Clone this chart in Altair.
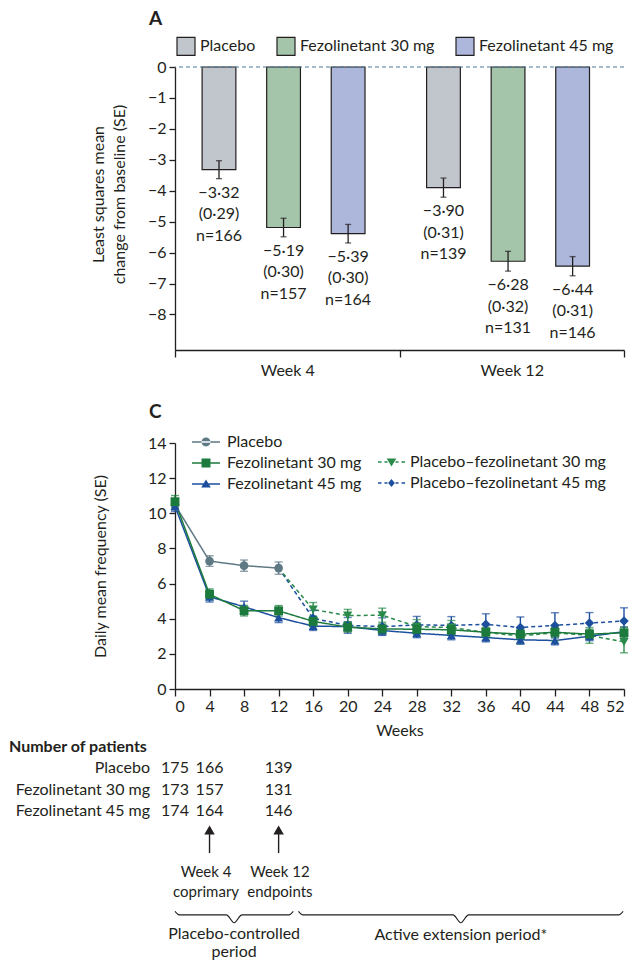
import altair as alt
import pandas as pd

FONT = "Lato"
INK = "#231f20"
FS = 16
W = 449          # plot width of both panels
PXW = W / 52.0   # pixels per week in panel C

# ---------------- Panel A data ----------------
treatments = ["Placebo", "Fezolinetant 30 mg", "Fezolinetant 45 mg"]
bar_colors = ["#c1c5cc", "#a4c5aa", "#adb6db"]
timepoints = ["Week 4", "Week 12"]
lsm_week4 = [-3.32, -5.19, -5.39]
se_week4 = [0.29, 0.30, 0.30]
n_week4 = [166, 157, 164]
lsm_week12 = [-3.90, -6.28, -6.44]
se_week12 = [0.31, 0.32, 0.31]
n_week12 = [139, 131, 146]
yA_ticks = [0, -1, -2, -3, -4, -5, -6, -7, -8]

# ---------------- Panel C data ----------------
series = ["Placebo", "Fezolinetant 30 mg", "Fezolinetant 45 mg",
          "Placebo–fezolinetant 30 mg", "Placebo–fezolinetant 45 mg"]
series_colors = ["#5e7884", "#1d7a3d", "#1c4f9e", "#2a8a4a", "#1c4f9e"]
weeks = [0, 4, 8, 12, 16, 20, 24, 28, 32, 36, 40, 44, 48, 52]
placebo_weeks = [0, 4, 8, 12]
placebo_mean = [10.48, 7.28, 7.02, 6.88]
placebo_se = [0.30, 0.30, 0.32, 0.35]
fez30_mean = [10.66, 5.39, 4.46, 4.45, 3.85, 3.52, 3.42, 3.40, 3.37, 3.23, 3.12, 3.23, 3.12, 3.20]
fez30_se = [0.35, 0.30, 0.30, 0.30, 0.30, 0.28, 0.28, 0.28, 0.28, 0.28, 0.28, 0.28, 0.28, 0.30]
fez45_mean = [10.40, 5.25, 4.68, 4.06, 3.58, 3.55, 3.33, 3.17, 3.05, 2.93, 2.80, 2.76, 3.00, 3.26]
fez45_se = [0.30, 0.30, 0.32, 0.28, 0.25, 0.25, 0.25, 0.25, 0.25, 0.25, 0.25, 0.25, 0.25, 0.28]
switch_weeks = [12, 16, 20, 24, 28, 32, 36, 40, 44, 48, 52]
pf30_mean = [6.88, 4.52, 4.18, 4.20, 3.55, 3.50, 3.22, 3.02, 3.20, 3.05, 2.68]
pf30_se = [0, 0.40, 0.35, 0.40, 0.40, 0.40, 0.45, 0.45, 0.45, 0.45, 0.62]
pf45_mean = [6.88, 4.02, 3.62, 3.55, 3.65, 3.62, 3.68, 3.50, 3.62, 3.75, 3.87]
pf45_se = [0, 0.45, 0.45, 0.50, 0.48, 0.50, 0.60, 0.60, 0.72, 0.60, 0.75]

# patient numbers table
table_groups = ["Placebo", "Fezolinetant 30 mg", "Fezolinetant 45 mg"]
table_weeks = [0, 4, 12]
table_counts = [[175, 166, 139], [173, 157, 131], [174, 164, 146]]


def fmt(v):
    s = f"{abs(v):.2f}".replace(".", "·")
    return ("−" if v < 0 else "") + s


# ================= Panel A =================
rowsA = []
for tp, lsm, se, n in [("Week 4", lsm_week4, se_week4, n_week4),
                       ("Week 12", lsm_week12, se_week12, n_week12)]:
    for t, v, e, k in zip(treatments, lsm, se, n):
        rowsA.append(dict(tp=tp, trt=t, lsm=v, lo=v - e, hi=v + e,
                          label=f"{fmt(v)}\n({fmt(e)})\nn={k}"))
dfA = pd.DataFrame(rowsA)

xA = alt.X("tp:N", sort=timepoints, title=None,
           scale=alt.Scale(paddingInner=0, paddingOuter=0),
           axis=alt.Axis(tickBand="extent", labelAngle=0, tickSize=7, labelPadding=5,
                         domainColor=INK, tickColor=INK, domainWidth=1.3, tickWidth=1.3))
xoA = alt.XOffset("trt:N", sort=treatments,
                  scale=alt.Scale(paddingInner=0.477, paddingOuter=0.477, align=0.44))
axisA = alt.Axis(values=yA_ticks, title=["Least squares mean", "change from baseline (SE)"],
                 tickSize=6, labelPadding=3, domainColor=INK, tickColor=INK,
                 domainWidth=1.3, tickWidth=1.3, titlePadding=20, titleLineHeight=21,
                 titleY=127)
scaleA = alt.Scale(domain=[-9.15, 0], nice=False, zero=False)


def yA(field):
    return alt.Y(field, scale=scaleA, axis=axisA)


baseA = alt.Chart(dfA)
bars = baseA.mark_bar(stroke=INK, strokeWidth=1.2).encode(
    x=xA, xOffset=xoA, y=yA("lsm:Q"),
    color=alt.Color("trt:N", sort=treatments,
                    scale=alt.Scale(domain=treatments, range=bar_colors),
                    legend=alt.Legend(orient="none", legendX=1, legendY=-31, direction="horizontal",
                                      title=None, symbolType="square", symbolSize=324,
                                      symbolStrokeColor=INK, symbolStrokeWidth=1.2,
                                      columnPadding=18, labelOffset=4, labelFontSize=FS,
                                      labelLimit=400)),
)
err_rule = baseA.mark_rule(color=INK, strokeWidth=1.3).encode(
    x=xA, xOffset=xoA, y=yA("lo:Q"), y2="hi:Q")
err_lo = baseA.mark_tick(color=INK, orient="horizontal", size=6, thickness=1.3).encode(
    x=xA, xOffset=xoA, y=yA("lo:Q"))
err_hi = baseA.mark_tick(color=INK, orient="horizontal", size=6, thickness=1.3).encode(
    x=xA, xOffset=xoA, y=yA("hi:Q"))
labelsA = baseA.mark_text(baseline="top", dy=6, lineBreak="\n", lineHeight=21.5,
                          fontSize=FS, color=INK).encode(
    x=xA, xOffset=xoA, y=yA("lo:Q"), text="label:N")
zero_line = alt.Chart(pd.DataFrame({"z": [0.0]})).mark_rule(
    color="#4a7d9b", strokeDash=[4, 3], strokeWidth=1.2).encode(y=yA("z:Q"))

panelA = alt.layer(bars, zero_line, err_rule, err_lo, err_hi, labelsA).properties(
    width=W, height=283,
    title=alt.TitleParams("A", anchor="start", frame="group", dx=-26, fontSize=19,
                          fontWeight="bold", color=INK, offset=30))

# ================= Panel C =================
rowsC = []


def add_series(name, wks, means, ses, markers):
    for w, m, e, mk in zip(wks, means, ses, markers):
        rowsC.append(dict(s=name, week=w, v=m, lo=m - e, hi=m + e, mk=mk))


add_series(series[4], switch_weeks, pf45_mean, pf45_se, [False] + [True] * 10)
add_series(series[3], switch_weeks, pf30_mean, pf30_se, [False] + [True] * 10)
add_series(series[0], placebo_weeks, placebo_mean, placebo_se, [True] * 4)
add_series(series[2], weeks, fez45_mean, fez45_se, [True] * 14)
add_series(series[1], weeks, fez30_mean, fez30_se, [True] * 14)
dfC = pd.DataFrame(rowsC)
dfC["order"] = range(len(dfC))

xC = alt.X("week:Q", scale=alt.Scale(domain=[0, 52], nice=False, zero=False),
           axis=alt.Axis(values=list(range(0, 53, 4)), title="Weeks", tickSize=7, grid=False,
                         labelPadding=2, titlePadding=8, domainColor=INK, tickColor=INK,
                         domainWidth=1.3, tickWidth=1.3))
axisC = alt.Axis(values=list(range(0, 15, 2)), title="Daily mean frequency (SE)", grid=False,
                 tickSize=6, labelPadding=3, domainColor=INK, tickColor=INK,
                 domainWidth=1.3, tickWidth=1.3, titlePadding=39)
scaleC = alt.Scale(domain=[0, 14], nice=False, zero=False)


def yC(field):
    return alt.Y(field, scale=scaleC, axis=axisC)


colC = alt.Color("s:N", scale=alt.Scale(domain=series, range=series_colors), legend=None)
baseC = alt.Chart(dfC)
linesC = baseC.mark_line(strokeWidth=1.5).encode(
    x=xC, y=yC("v:Q"), color=colC, detail="s:N",
    strokeDash=alt.StrokeDash("s:N", scale=alt.Scale(domain=series,
                              range=[[1, 0], [1, 0], [1, 0], [4, 3], [4, 3]]), legend=None),
    order="week:Q")
mk = baseC.transform_filter("datum.mk")
errC = mk.mark_rule(strokeWidth=1.4).encode(x=xC, y=yC("lo:Q"), y2="hi:Q", color=colC)
errC_lo = mk.mark_tick(orient="horizontal", size=8, thickness=1.4).encode(
    x=xC, y=yC("lo:Q"), color=colC)
errC_hi = mk.mark_tick(orient="horizontal", size=8, thickness=1.4).encode(
    x=xC, y=yC("hi:Q"), color=colC)
ptsC = mk.mark_point(filled=True, opacity=1).encode(
    x=xC, y=yC("v:Q"), color=colC,
    shape=alt.Shape("s:N", scale=alt.Scale(domain=series,
                    range=["circle", "square", "triangle-up", "triangle-down", "diamond"]), legend=None),
    size=alt.Size("s:N", scale=alt.Scale(domain=series, range=[75, 90, 60, 55, 45]), legend=None),
    order="order:Q")
dataC = alt.layer(linesC, errC, errC_lo, errC_hi, ptsC)

# legend symbols (line + marker), drawn by the legend itself
solid = "M-1.75,-0.1H1.75V0.1H-1.75Z"
dashed = ("M-1.69,-0.1H-1.25V0.1H-1.69Z M-0.88,-0.1H-0.5V0.1H-0.88Z "
          "M0.5,-0.1H0.88V0.1H0.5Z M1.25,-0.1H1.69V0.1H1.25Z")
circle = "M-0.56,0A0.56,0.56,0,1,0,0.56,0A0.56,0.56,0,1,0,-0.56,0Z"
square = "M-0.56,-0.56H0.56V0.56H-0.56Z"
tri_up = "M0,-0.55L0.6,0.45H-0.6Z"
tri_dn = "M0,0.55L0.6,-0.45H-0.6Z"
diamond = "M0,-0.5L0.42,0L0,0.5L-0.42,0Z"
leg_paths1 = [solid + " " + circle, solid + " " + square, solid + " " + tri_up]
leg_paths2 = [dashed + " " + tri_dn, dashed + " " + diamond]


def legend_layer(names, colors, paths, lx, ly, loff):
    lg = alt.Legend(orient="none", legendX=lx, legendY=ly, direction="vertical", title=None,
                    symbolSize=256, symbolStrokeWidth=0, symbolOpacity=1, rowPadding=5,
                    labelOffset=loff, labelFontSize=FS, labelLimit=400)
    return alt.Chart(pd.DataFrame({"s": names})).mark_point(filled=True, opacity=0).encode(
        x=alt.value(0), y=alt.value(0),
        color=alt.Color("s:N", sort=names, scale=alt.Scale(domain=names, range=colors), legend=lg),
        shape=alt.Shape("s:N", sort=names, scale=alt.Scale(domain=names, range=paths), legend=lg))


leg1 = legend_layer(series[:3], series_colors[:3], leg_paths1, 23, -9, 13)
leg2 = legend_layer(series[3:], series_colors[3:], leg_paths2, 208.5, 11, 10.5)

# annotation layer below the plot (x in weeks, y in text lines)
yN = alt.Y("ln:Q", scale=alt.Scale(domain=[0, 10], range=[304, 517]), axis=None)

hdr = alt.Chart(pd.DataFrame({"week": [-166 / PXW], "ln": [0], "t": ["Number of patients"]})).mark_text(
    align="left", baseline="middle", fontWeight="bold", fontSize=FS, color=INK).encode(
    x=xC, y=yN, text="t:N")
grp = alt.Chart(pd.DataFrame({"week": [-25 / PXW] * 3, "ln": [1, 2, 3], "t": table_groups})).mark_text(
    align="right", baseline="middle", fontSize=FS, color=INK).encode(x=xC, y=yN, text="t:N")
cnt_rows = []
for i, g in enumerate(table_groups):
    for w, c in zip(table_weeks, table_counts[i]):
        cnt_rows.append(dict(week=w, ln=i + 1, t=str(c)))
cnt = alt.Chart(pd.DataFrame(cnt_rows)).mark_text(
    align="center", baseline="middle", fontSize=FS, color=INK).encode(x=xC, y=yN, text="t:N")

endpoint_weeks = [4, 12]
endpoint_labels = ["Week 4\ncoprimary", "Week 12\nendpoints"]
arrow_df = pd.DataFrame({"week": endpoint_weeks, "ln": [3.95] * 2, "ln2": [4.98] * 2})
shafts = alt.Chart(arrow_df).mark_rule(color=INK, strokeWidth=1.4).encode(x=xC, y=yN, y2="ln2:Q")
heads = alt.Chart(pd.DataFrame({"week": endpoint_weeks, "ln": [3.9] * 2})).mark_point(
    shape="triangle-up", filled=True, size=110, color=INK, opacity=1).encode(x=xC, y=yN)
ep_text = alt.Chart(pd.DataFrame({"week": [3.6, 12.15], "ln": [5.85] * 2, "t": endpoint_labels})).mark_text(
    align="center", baseline="middle", lineBreak="\n", lineHeight=20, fontSize=15, color=INK).encode(
    x=xC, y=yN, text="t:N")

brace_spans = [(0.0, 13.7), (14.3, 51.9)]
brace_rows = []
for bi, (a, b) in enumerate(brace_spans):
    m = (a + b) / 2
    for w, l in [(a, 7.72), (a + 0.5, 7.88), (m - 0.9, 7.88), (m, 8.25),
                 (m + 0.9, 7.88), (b - 0.5, 7.88), (b, 7.72)]:
        brace_rows.append(dict(b=bi, week=w, ln=l))
braces = alt.Chart(pd.DataFrame(brace_rows)).mark_line(
    color=INK, strokeWidth=1.2, interpolate="monotone").encode(x=xC, y=yN, detail="b:N", order="week:Q")
period_text = alt.Chart(pd.DataFrame({
    "week": [6.85, 33.1], "ln": [8.78, 8.83],
    "t": ["Placebo-controlled\nperiod", "Active extension period*"]})).mark_text(
    align="center", baseline="middle", lineBreak="\n", lineHeight=17.5, fontSize=FS, color=INK).encode(
    x=xC, y=yN, text="t:N")

annot = alt.layer(hdr, grp, cnt, shafts, heads, ep_text, braces, period_text)

panelC = alt.layer(dataC, leg1, leg2, annot).resolve_scale(
    y="independent", color="independent", shape="independent",
    strokeDash="independent", size="independent").properties(
    width=W, height=246,
    title=alt.TitleParams("C", anchor="start", frame="group", dx=-26, fontSize=19,
                          fontWeight="bold", color=INK, offset=12))

chart = alt.vconcat(panelA, panelC, spacing=25).properties(
    padding={"left": 9, "top": 10, "right": 0, "bottom": 0}
).configure(font=FONT).configure_view(stroke=None).configure_axis(
    labelFont=FONT, labelFontSize=FS, labelColor=INK, titleFont=FONT, titleFontSize=FS,
    titleColor=INK, titleFontWeight="normal", grid=False
).configure_legend(labelFont=FONT, labelColor=INK, labelFontSize=FS, padding=0
).configure_text(font=FONT)

chart.save("out.html", embed_options={"renderer": "svg", "actions": False})
